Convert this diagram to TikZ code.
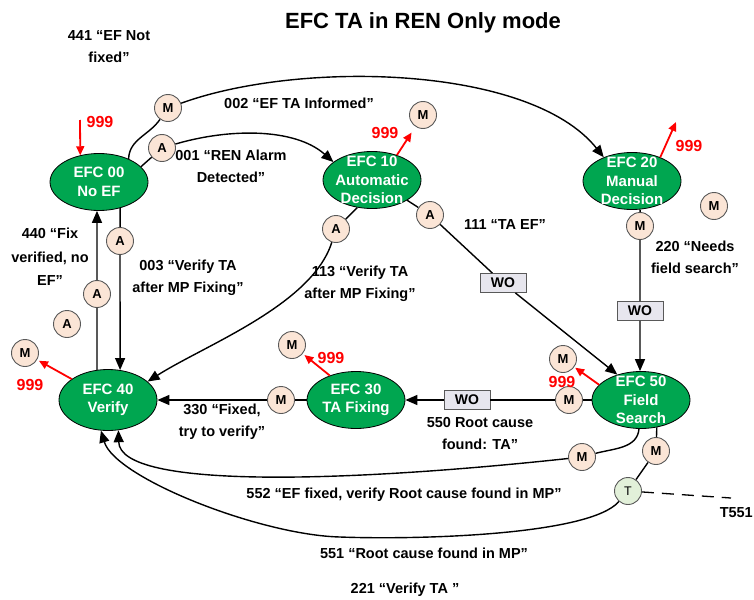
\documentclass[tikz,border=0pt]{standalone}
\usepackage{fontspec}
\setmainfont{Liberation Sans}
\usetikzlibrary{shapes.geometric,arrows.meta}
\definecolor{efcgreen}{HTML}{00A650}
\definecolor{peach}{HTML}{FBE5D6}
\definecolor{tgreen}{HTML}{E2F0D9}
\definecolor{wofill}{HTML}{E7E6EE}
\definecolor{circedge}{HTML}{595959}
\begin{document}
\begin{tikzpicture}[x=1pt,y=1pt,
 state/.style={ellipse, draw=black, line width=0.8pt, fill=efcgreen, minimum width=98pt, minimum height=57pt, inner xsep=-3pt, inner ysep=-8pt, align=center, text=white, font=\fontsize{15}{18.5}\selectfont\bfseries},
 tag/.style={circle, draw=circedge, line width=0.9pt, fill=peach, minimum size=27pt, inner sep=0pt, font=\fontsize{13}{14}\selectfont\bfseries},
 ttag/.style={tag, fill=tgreen, font=\fontsize{12.5}{14}\selectfont},
 wo/.style={rectangle, draw=circedge, line width=0.9pt, fill=wofill, minimum width=46pt, minimum height=19pt, inner sep=0pt, font=\fontsize{14}{16}\selectfont\bfseries},
 lbl/.style={align=center, font=\fontsize{14.5}{22}\selectfont\bfseries, inner sep=0pt},
 red999/.style={text=red, font=\fontsize{16}{18}\selectfont\bfseries, inner sep=0pt},
 conn/.style={line width=1.4pt},
 arr/.style={line width=1.4pt, -{Triangle[length=12pt,width=10pt]}},
 redarr/.style={draw=red, line width=1.8pt, -{Triangle[length=9pt,width=8pt]}},
]
\useasboundingbox (0,0) rectangle (754,-599);

% ---- labels
\node[font=\fontsize{22}{24}\selectfont\bfseries] (title) at (423,-23) {EFC TA in REN Only mode};
\node[lbl] (l441) at (109,-47) {441 “EF Not\\fixed”};
\node[lbl] (l002) at (299,-103) {002 “EF TA Informed”};
\node[lbl] (l001) at (231,-166) {001 “REN Alarm\\Detected”};
\node[lbl, font=\fontsize{14.5}{23.5}\selectfont\bfseries] (l440) at (50,-257) {440 “Fix\\verified, no\\EF”};
\node[lbl] (l003) at (188,-278) {003 “Verify TA\\after MP Fixing”};
\node[lbl] (l113) at (360,-284) {113 “Verify TA\\after MP Fixing”};
\node[lbl] (l111) at (505,-225) {111 “TA EF”};
\node[lbl] (l220) at (695,-257) {220 “Needs\\field search”};
\node[lbl] (l330) at (222,-422) {330 “Fixed,\\try to verify”};
\node[lbl] (l550) at (480,-434) {550 Root cause\\found: TA”};
\node[lbl] (l552) at (404,-495) {552 “EF fixed, verify Root cause found in MP”};
\node[lbl] (l551) at (424,-553) {551 “Root cause found in MP”};
\node[lbl] (l221) at (405,-590) {221 “Verify TA ”};
\node[lbl, anchor=east] (lt551) at (753,-513) {T551};

% ---- states
\node[state] (e00) at (99,-182) {EFC 00\\No EF};
\node[state] (e10) at (372,-180) {EFC 10\\Automatic\\Decision};
\node[state] (e20) at (632,-181) {EFC 20\\Manual\\Decision};
\node[state, minimum height=61pt] (e40) at (108,-400) {EFC 40\\Verify};
\node[state] (e30) at (356,-400) {EFC 30\\TA Fixing};
\node[state] (e50) at (641,-400) {EFC 50\\Field\\Search};

% ---- small tags
\node[tag] (m002) at (168,-108) {M};
\node[tag] (a001) at (162,-148) {A};
\node[tag] (m10) at (423,-115) {M};
\node[tag] (m20x) at (714,-206) {M};
\node[tag] (m220) at (640,-226) {M};
\node[tag] (a111) at (430,-215) {A};
\node[tag] (a113) at (336,-229) {A};
\node[tag] (a003) at (120,-241) {A};
\node[tag] (a440) at (97,-294) {A};
\node[tag] (aloose) at (67,-324) {A};
\node[tag] (m40) at (25,-353) {M};
\node[tag] (m330) at (281,-400) {M};
\node[tag] (m30) at (292,-345) {M};
\node[tag] (m550) at (569,-400) {M};
\node[tag] (m50) at (563,-359) {M};
\node[tag] (m552) at (582,-457) {M};
\node[tag] (m551) at (656,-451) {M};
\node[ttag] (t551) at (628,-491) {T};

\node[wo] (wo111) at (503,-283) {WO};
\node[wo] (wo220) at (640,-311) {WO};
\node[wo] (wo550) at (467,-400) {WO};

% ---- 999 labels
\node[red999] (r00) at (100,-122) {999};
\node[red999] (r10) at (385,-133) {999};
\node[red999] (r20) at (689,-146) {999};
\node[red999] (r40) at (30,-385) {999};
\node[red999] (r30) at (331,-358) {999};
\node[red999] (r50) at (562,-382) {999};

\coordinate (c00) at (80,-120);
\coordinate (c20) at (676,-122);
\coordinate (tend) at (731,-498);

% ---- red arrows
\draw[redarr] (c00) -- (e00.125);
\draw[redarr, shorten >=7pt] (e10.45) -- (m10);
\draw[redarr] (e20.40) -- (c20);
\draw[redarr, shorten >=2pt] (e40.150) -- (m40);
\draw[redarr, shorten >=2pt] (e30.137) -- (m30);
\draw[redarr, shorten >=1pt] (e50.160) -- (m50);

% ---- black connectors
\draw[conn] (e00.38) to[out=88,in=235] (m002);
\draw[arr] (m002) .. controls (300,-60) and (530,-65) .. (e20.140);
\draw[conn] (e00.20) -- (a001);
\draw[arr] (a001) .. controls (230,-128) and (295,-128) .. (e10.155);
\draw[arr] (e00.-51) -- (a003) -- (e40.68);
\draw[arr] (e40.110) -- (a440) -- (e00.-94);
\draw[conn] (e10.-118) -- (a113);
\draw[arr] (a113) .. controls (312,-305) and (205,-345) .. (e40.25);
\draw[arr] (e10.-30) -- (a111) -- (wo111) -- (e50.133);
\draw[arr] (e20.-74) -- (m220) -- (wo220) -- (e50.92);
\draw[arr] (e50.180) -- (m550) -- (wo550) -- (e30.0);
\draw[arr] (e30.180) -- (m330) -- (e40.0);
\draw[conn] (e50.-94) to[out=-95,in=15] (m552);
\draw[arr] (m552) .. controls (350,-482) and (120,-490) .. (e40.-71);
\draw[conn] (e50.-60) -- (m551) -- (t551);
\draw[arr] (t551) .. controls (590,-535) and (420,-540) .. (340,-537) .. controls (260,-535) and (115,-478) .. (e40.-103);
\draw[line width=1.3pt, dash pattern=on 12pt off 8pt] (t551) -- (tend);
\end{tikzpicture}
\end{document}
